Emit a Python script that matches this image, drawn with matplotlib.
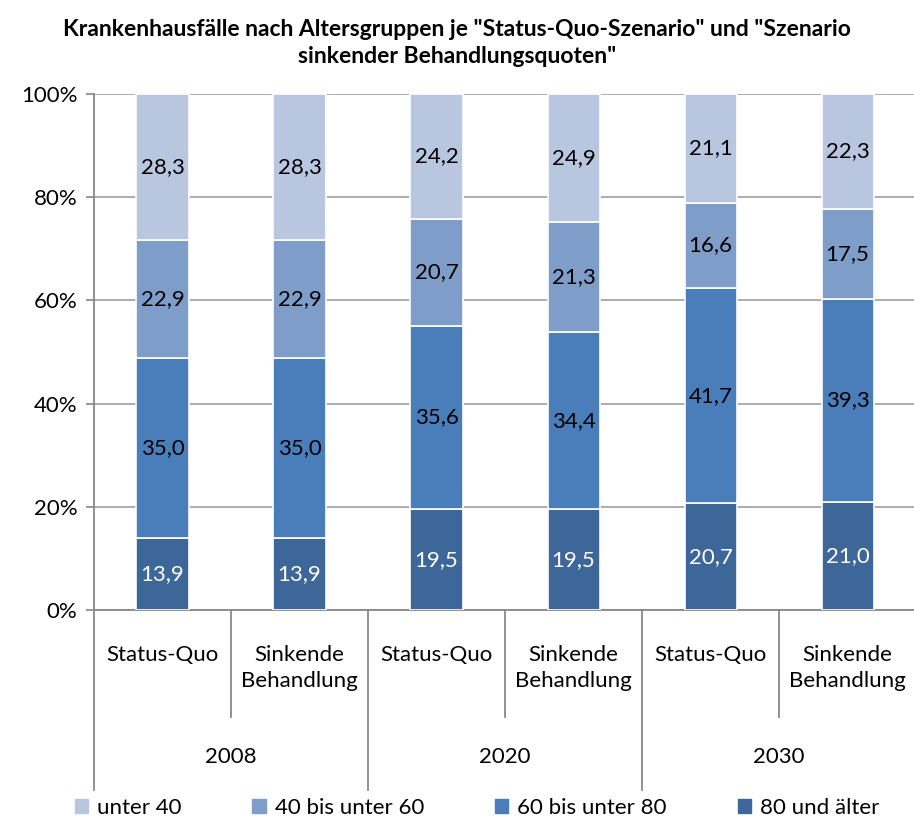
import numpy as np
import matplotlib
matplotlib.use("Agg")
import matplotlib.pyplot as plt
from matplotlib.patches import Patch

plt.rcParams['font.family'] = ['Lato', 'DejaVu Sans']

scenarios = ["Status-Quo", "Sinkende\nBehandlung"] * 3
years = ["2008", "2020", "2030"]
groups = ["80 und älter", "60 bis unter 80", "40 bis unter 60", "unter 40"]
v80 = [13.9, 13.9, 19.5, 19.5, 20.7, 21.0]
v60 = [35.0, 35.0, 35.6, 34.4, 41.7, 39.3]
v40 = [22.9, 22.9, 20.7, 21.3, 16.6, 17.5]
vu40 = [28.3, 28.3, 24.2, 24.9, 21.1, 22.3]
colors = ["#3D6699", "#4A7EBB", "#7F9DC9", "#B9C6DF"]
label_colors = ["white", "black", "black", "black"]

data = np.array([v80, v60, v40, vu40])
data = data / data.sum(axis=0) * 100  # auf 100% normieren

fig = plt.figure(figsize=(9.14, 8.24), dpi=100)
ax = fig.add_axes([94 / 914, 214 / 824, 820 / 914, 516 / 824])

x = np.arange(len(scenarios))
bottom = np.zeros(len(x))
for i, g in enumerate(groups):
    ax.bar(x, data[i], 0.38, bottom=bottom, color=colors[i],
           edgecolor="white", linewidth=1.2, label=g, zorder=3)
    raw = [v80, v60, v40, vu40][i]
    for xi, bt, h, r in zip(x, bottom, data[i], raw):
        ax.text(xi, bt + h / 2, f"{r:.1f}".replace(".", ","), ha="center",
                va="center", fontsize=16, color=label_colors[i], zorder=4)
    bottom += data[i]

ax.set_xlim(-0.5, 5.485)
ax.set_ylim(0, 100)
ax.set_yticks(np.arange(0, 101, 20))
ax.set_yticklabels([f"{t}%" for t in range(0, 101, 20)], fontsize=16)
ax.yaxis.grid(True, color="#A6A6A6", linewidth=1.3, zorder=0)
ax.set_xticks([])
ax.tick_params(axis="y", length=6, color="#888888", width=1.2, pad=6)
for s in ["top", "right"]:
    ax.spines[s].set_visible(False)
for s in ["left", "bottom"]:
    ax.spines[s].set_color("#888888")
    ax.spines[s].set_linewidth(1.3)

trans = ax.get_xaxis_transform()
for xi, s in zip(x, scenarios):
    ax.text(xi, -0.068, s, transform=trans, ha="center", va="top",
            fontsize=16, linespacing=1.4, clip_on=False)
for k, yr in enumerate(years):
    ax.text(2 * k + 0.5, -0.285, yr, transform=trans, ha="center",
            va="center", fontsize=16, clip_on=False)
for xb in [0.5, 2.5, 4.5]:
    ax.plot([xb, xb], [0, -0.207], transform=trans, color="#888888",
            lw=1.3, clip_on=False)
for xb in [-0.5, 1.5, 3.5]:
    ax.plot([xb, xb], [0, -0.349], transform=trans, color="#888888",
            lw=1.3, clip_on=False)

handles = [Patch(color=colors[i]) for i in [3, 2, 1, 0]]
fig.legend(handles, [groups[i] for i in [3, 2, 1, 0]], loc="center",
           bbox_to_anchor=(0.522, 1 - 808 / 824), ncol=4, frameon=False,
           fontsize=16, handlelength=0.6, handleheight=0.6,
           handletextpad=0.4, columnspacing=3.2)

fig.text(0.5, 1 - 43 / 824,
         'Krankenhausfälle nach Altersgruppen je "Status-Quo-Szenario" und "Szenario\nsinkender Behandlungsquoten"',
         ha="center", va="center", fontsize=16.5, fontweight="bold",
         linespacing=1.3)

fig.savefig("out.png", dpi=100)
